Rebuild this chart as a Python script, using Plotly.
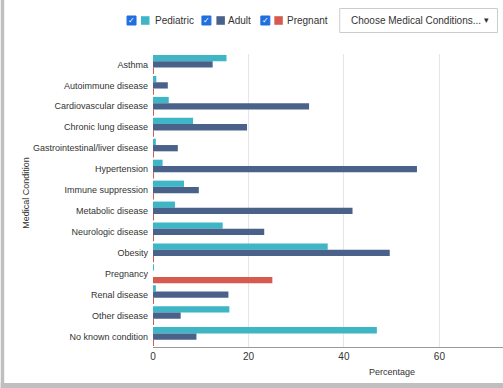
import plotly.graph_objects as go

categories = ["Asthma", "Autoimmune disease", "Cardiovascular disease", "Chronic lung disease",
              "Gastrointestinal/liver disease", "Hypertension", "Immune suppression",
              "Metabolic disease", "Neurologic disease", "Obesity", "Pregnancy",
              "Renal disease", "Other disease", "No known condition"]
pediatric = [15.4, 0.7, 3.3, 8.4, 0.6, 2.0, 6.5, 4.6, 14.6, 36.6, 0.2, 0.6, 16.0, 46.9]
adult = [12.5, 3.1, 32.7, 19.7, 5.2, 55.3, 9.6, 41.8, 23.3, 49.6, 0, 15.8, 5.8, 9.1]
pregnant = [0.2, 0.2, 0.2, 0.2, 0.2, 0.2, 0.2, 0.2, 0.2, 0.2, 25.0, 0.2, 0.2, 0.2]
series_names = ["Pediatric", "Adult", "Pregnant"]
x_ticks = [0, 20, 40, 60, 80]

C_PED = "#3fb6c6"
C_ADU = "#4a6289"
C_PRE = "#d65a50"
FONT = "Liberation Sans, Arial, sans-serif"

W, H = 503, 388
L, R, T, B = 152.5, 503, 54, 347

def px(x):
    return (x - L) / (R - L)

def py(y):
    return (B - y) / (B - T)

fig = go.Figure()
for name, vals, col in zip(series_names, [pediatric, adult, pregnant], [C_PED, C_ADU, C_PRE]):
    fig.add_trace(go.Bar(y=categories, x=vals, name=name, orientation="h",
                         marker=dict(color=col, line=dict(width=0))))

shapes = []
annotations = []

# card frame
shapes.append(dict(type="rect", xref="paper", yref="paper", x0=px(0), x1=px(3.5), y0=py(0), y1=py(388),
                   fillcolor="#bfbfbf", line=dict(width=0), layer="above"))
shapes.append(dict(type="rect", xref="paper", yref="paper", x0=px(0), x1=px(503), y0=py(383), y1=py(388),
                   fillcolor="#bfbfbf", line=dict(width=0), layer="above"))

# legend with checkboxes
legend_items = [(126.5, 140.5, 152.5, C_PED, "Pediatric"),
                (201.5, 216, 226, C_ADU, "Adult"),
                (260.5, 274, 285, C_PRE, "Pregnant")]
cy = 20.5
for cbx, sqx, tx, col, label in legend_items:
    shapes.append(dict(type="rect", xref="paper", yref="paper", x0=px(cbx), x1=px(cbx + 9),
                       y0=py(cy + 4.5), y1=py(cy - 4.5), fillcolor="#1f6fe0",
                       line=dict(color="#1f6fe0", width=1)))
    annotations.append(dict(x=px(cbx + 4.5), y=py(cy), xref="paper", yref="paper", text="✓",
                            showarrow=False, font=dict(size=8, color="white", family="DejaVu Sans"),
                            xanchor="center", yanchor="middle"))
    shapes.append(dict(type="rect", xref="paper", yref="paper", x0=px(sqx), x1=px(sqx + 8.5),
                       y0=py(cy + 4.3), y1=py(cy - 4.3), fillcolor=col, line=dict(width=0)))
    annotations.append(dict(x=px(tx), y=py(cy), xref="paper", yref="paper", text=label,
                            showarrow=False, font=dict(size=10, color="#333", family=FONT),
                            xanchor="left", yanchor="middle"))

# dropdown
shapes.append(dict(type="rect", xref="paper", yref="paper", x0=px(339.5), x1=px(497.5),
                   y0=py(32.5), y1=py(8.5), fillcolor="white", line=dict(color="#cccccc", width=1)))
annotations.append(dict(x=px(349), y=py(cy), xref="paper", yref="paper", text="Choose Medical Conditions...",
                        showarrow=False, font=dict(size=10, color="#333", family=FONT),
                        xanchor="left", yanchor="middle"))
annotations.append(dict(x=px(486), y=py(cy), xref="paper", yref="paper", text="▾",
                        showarrow=False, font=dict(size=9, color="#333", family="DejaVu Sans"),
                        xanchor="center", yanchor="middle"))

# axis titles
annotations.append(dict(x=px(391.5), y=py(372), xref="paper", yref="paper", text="Percentage",
                        showarrow=False, font=dict(size=9, color="#333", family=FONT),
                        xanchor="center", yanchor="middle"))
annotations.append(dict(x=px(25), y=py(193), xref="paper", yref="paper", text="Medical Condition",
                        showarrow=False, textangle=-90, font=dict(size=9, color="#333", family=FONT),
                        xanchor="center", yanchor="middle"))

fig.update_layout(
    width=W, height=H,
    margin=dict(l=L, r=W - R, t=T, b=H - B, pad=0),
    barmode="group", bargap=0.1, bargroupgap=0,
    plot_bgcolor="white", paper_bgcolor="white",
    showlegend=False,
    font=dict(family=FONT, size=9, color="#333"),
    shapes=shapes, annotations=annotations,
    xaxis=dict(range=[0, (R - L) / 4.78], tickvals=x_ticks, showgrid=True, gridcolor="#e6e6e6",
               gridwidth=1, zeroline=False, showline=True, linecolor="#999", linewidth=1,
               ticks="", tickfont=dict(size=10, color="#333"), fixedrange=True),
    yaxis=dict(autorange="reversed", showgrid=False, zeroline=False, showline=False,
               ticks="", ticklabelstandoff=4, tickfont=dict(size=9, color="#333")),
)

fig.write_html("out.html", config={"displayModeBar": False},
               post_script="document.body.style.margin='0';document.body.style.overflow='hidden';")
